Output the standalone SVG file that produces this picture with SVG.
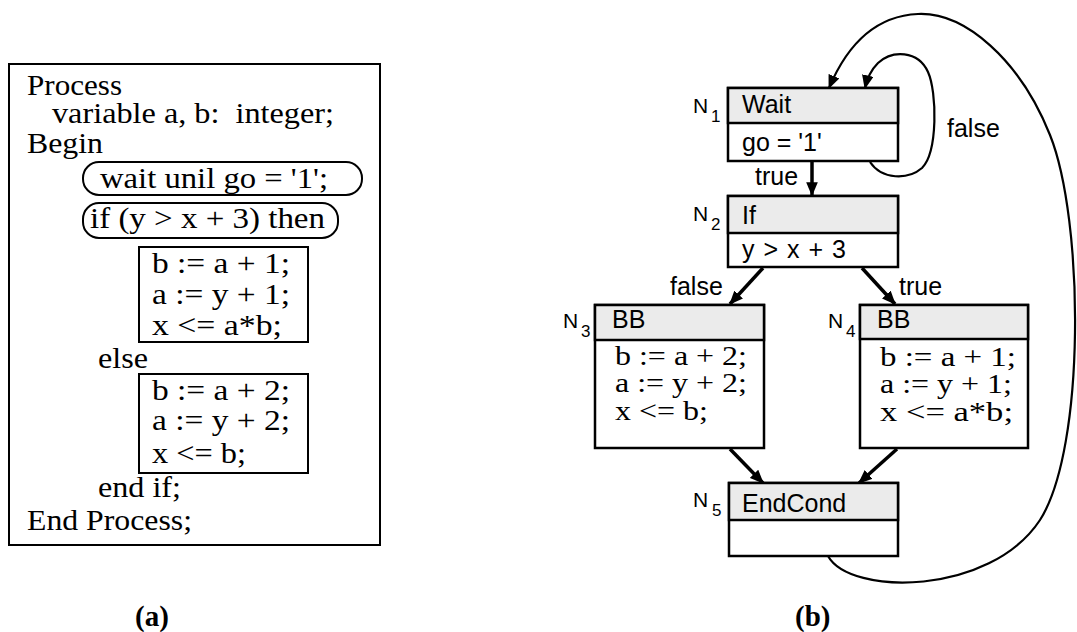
<svg xmlns="http://www.w3.org/2000/svg" width="1077" height="632" viewBox="0 0 1077 632">
<style>
.serif{font-family:"Liberation Serif","Times New Roman",serif;font-size:30px;fill:#000;white-space:pre}
.serif2{font-family:"Liberation Serif","Times New Roman",serif;font-size:28px;fill:#000;white-space:pre}
.sans{font-family:"Liberation Sans",Arial,sans-serif;font-size:25px;fill:#000;white-space:pre}
.nl{font-family:"Liberation Sans",Arial,sans-serif;font-size:21px;fill:#000}
.sub{font-family:"Liberation Sans",Arial,sans-serif;font-size:17px;fill:#000}
.cap{font-family:"Liberation Serif","Times New Roman",serif;font-size:29px;font-weight:bold;fill:#000}
.box{fill:#fff;stroke:#000;stroke-width:2.5}
.hdr{fill:#ebebeb;stroke:#000;stroke-width:2.5}
.thin{fill:none;stroke:#000;stroke-width:2}
.arr{fill:none;stroke:#000;stroke-width:3.5}
.loop{fill:none;stroke:#000;stroke-width:2.2}
</style>
<defs>
<marker id="ah" viewBox="0 0 12 10" refX="11" refY="5" markerWidth="14" markerHeight="12" markerUnits="userSpaceOnUse" orient="auto">
<path d="M0,0 L12,5 L0,10 z" fill="#000"/>
</marker>
</defs>

<g id="code">
<rect x="9" y="64" width="371" height="481" class="thin"/>
<text class="serif" x="27" y="95" textLength="95" lengthAdjust="spacingAndGlyphs">Process</text>
<text class="serif" x="52" y="123" textLength="282" lengthAdjust="spacingAndGlyphs">variable a, b:  integer;</text>
<text class="serif" x="27" y="153" textLength="76" lengthAdjust="spacingAndGlyphs">Begin</text>
<rect x="83" y="162" width="279" height="33" rx="16" class="thin"/>
<text class="serif" x="100" y="188" textLength="228" lengthAdjust="spacingAndGlyphs">wait unil go = '1';</text>
<rect x="83" y="203" width="255" height="35" rx="16" class="thin"/>
<text class="serif" x="90" y="228" textLength="235" lengthAdjust="spacingAndGlyphs">if (y &gt; x + 3) then</text>
<rect x="139" y="247" width="169" height="95" class="thin"/>
<text class="serif" x="152" y="273" textLength="138" lengthAdjust="spacingAndGlyphs">b := a + 1;</text>
<text class="serif" x="152" y="304" textLength="138" lengthAdjust="spacingAndGlyphs">a := y + 1;</text>
<text class="serif" x="152" y="335" textLength="130" lengthAdjust="spacingAndGlyphs">x &lt;= a*b;</text>
<text class="serif" x="98" y="368" textLength="50" lengthAdjust="spacingAndGlyphs">else</text>
<rect x="139" y="374" width="169" height="99" class="thin"/>
<text class="serif" x="152" y="400" textLength="138" lengthAdjust="spacingAndGlyphs">b := a + 2;</text>
<text class="serif" x="152" y="430" textLength="138" lengthAdjust="spacingAndGlyphs">a := y + 2;</text>
<text class="serif" x="152" y="463" textLength="94" lengthAdjust="spacingAndGlyphs">x &lt;= b;</text>
<text class="serif" x="98" y="497" textLength="83" lengthAdjust="spacingAndGlyphs">end if;</text>
<text class="serif" x="27" y="530" textLength="165" lengthAdjust="spacingAndGlyphs">End Process;</text>
</g>

<g id="connectors">
<line x1="812" y1="161" x2="812" y2="195" class="arr" marker-end="url(#ah)"/>
<line x1="763" y1="268" x2="730" y2="304" class="arr" marker-end="url(#ah)"/>
<line x1="862" y1="268" x2="895" y2="304" class="arr" marker-end="url(#ah)"/>
<line x1="730" y1="449" x2="763" y2="483" class="arr" marker-end="url(#ah)"/>
<line x1="897" y1="449" x2="859" y2="483" class="arr" marker-end="url(#ah)"/>
<path d="M870,162 C882,180 908,180 922,168 C938,152 937,92 928,72 C918,50 892,50 878,63 C871,70 867,79 865,88" class="loop" marker-end="url(#ah)"/>
<path d="M828,556 C850,596 990,596 1040,520 C1086,448 1084,220 1050,135 C1020,60 965,12 918,14 C872,16 845,50 829,88" class="loop" marker-end="url(#ah)"/>
<text class="sans" x="755" y="185">true</text>
<text class="sans" x="670" y="295">false</text>
<text class="sans" x="899" y="295">true</text>
<text class="sans" x="947" y="137">false</text>
</g>

<g id="n1">
<rect x="728" y="88" width="170" height="73" class="box"/>
<rect x="728" y="88" width="170" height="35" class="hdr"/>
<text class="sans" x="742" y="113">Wait</text>
<text class="sans" x="742" y="151">go = '1'</text>
<text class="nl" x="693" y="113">N</text><text class="sub" x="711" y="122">1</text>
</g>

<g id="n2">
<rect x="728" y="196" width="170" height="71" class="box"/>
<rect x="728" y="196" width="170" height="37" class="hdr"/>
<text class="sans" x="742" y="224">If</text>
<text class="sans" x="742" y="258" textLength="104" lengthAdjust="spacing">y &gt; x + 3</text>
<text class="nl" x="693" y="221">N</text><text class="sub" x="711" y="230">2</text>
</g>

<g id="n3">
<rect x="595" y="305" width="169" height="143" class="box"/>
<rect x="595" y="305" width="169" height="35" class="hdr"/>
<text class="sans" x="612" y="328">BB</text>
<text class="serif2" x="615" y="365" textLength="132" lengthAdjust="spacingAndGlyphs">b := a + 2;</text>
<text class="serif2" x="615" y="392" textLength="132" lengthAdjust="spacingAndGlyphs">a := y + 2;</text>
<text class="serif2" x="615" y="420" textLength="93" lengthAdjust="spacingAndGlyphs">x &lt;= b;</text>
<text class="nl" x="563" y="328">N</text><text class="sub" x="581" y="337">3</text>
</g>

<g id="n4">
<rect x="860" y="305" width="168" height="143" class="box"/>
<rect x="860" y="305" width="168" height="34" class="hdr"/>
<text class="sans" x="877" y="328">BB</text>
<text class="serif2" x="880" y="366" textLength="136" lengthAdjust="spacingAndGlyphs">b := a + 1;</text>
<text class="serif2" x="880" y="393" textLength="132" lengthAdjust="spacingAndGlyphs">a := y + 1;</text>
<text class="serif2" x="880" y="421" textLength="133" lengthAdjust="spacingAndGlyphs">x &lt;= a*b;</text>
<text class="nl" x="828" y="328">N</text><text class="sub" x="846" y="337">4</text>
</g>

<g id="n5">
<rect x="729" y="483" width="169" height="73" class="box"/>
<rect x="729" y="483" width="169" height="37" class="hdr"/>
<text class="sans" x="742" y="512">EndCond</text>
<text class="nl" x="693" y="507">N</text><text class="sub" x="712" y="516">5</text>
</g>

<g id="captions">
<text class="cap" x="135" y="626">(a)</text>
<text class="cap" x="795" y="626">(b)</text>
</g>
</svg>
